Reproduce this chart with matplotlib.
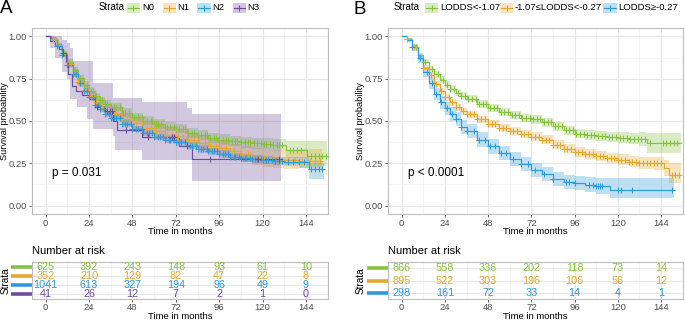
import numpy as np
import matplotlib
matplotlib.use('Agg')
import matplotlib.pyplot as plt
from matplotlib.patches import Rectangle
from matplotlib.lines import Line2D
import matplotlib.transforms as mtrans

plt.rcParams['font.family'] = ['Liberation Sans', 'DejaVu Sans']

# ---------------- data ----------------
time_ticks = [0, 24, 48, 72, 96, 120, 144]
surv_ticks = [0.0, 0.25, 0.5, 0.75, 1.0]
surv_tick_labels = ['0.00', '0.25', '0.50', '0.75', '1.00']

# Panel A: N stage
a_labels = ['N0', 'N1', 'N2', 'N3']
a_colors = ['#86C13F', '#E5A82E', '#2E9AD6', '#6C4E9C']
a_p_text = 'p = 0.031'

a0_t = [0, 3, 6, 9, 12, 15, 18, 21, 24, 27, 30, 33, 36, 42, 48, 54, 60, 66, 72, 78, 84, 90, 96, 102, 108, 114, 120, 126, 133, 144.4, 155.5]
a0_s = [1.0, .985, .95, .90, .85, .80, .755, .715, .68, .646, .622, .60, .583, .55, .525, .502, .482, .465, .455, .43, .415, .40, .39, .382, .374, .368, .362, .356, .327, .291, .291]
a0_lo = [1, .98, .94, .888, .835, .783, .737, .696, .66, .625, .60, .577, .559, .525, .50, .476, .455, .438, .427, .401, .385, .37, .359, .35, .341, .334, .327, .32, .28, .235, .235]
a0_hi = [1, .99, .96, .912, .865, .817, .773, .734, .70, .667, .644, .623, .607, .575, .55, .528, .509, .492, .483, .459, .445, .43, .421, .414, .407, .402, .397, .392, .38, .38, .38]
a0_cens = [4, 7, 10, 13, 16, 19, 21, 23, 25, 26, 28, 30, 31, 33, 34, 36, 38, 39, 41, 43, 44, 46, 48, 49, 51, 53, 54, 56, 58, 59, 61, 62, 64, 66, 67, 69, 71, 72, 74, 76, 77, 79, 81, 82, 84, 86, 88, 89, 91, 93, 94, 96, 98, 100, 101, 103, 105, 106, 108, 110, 112, 113, 115, 117, 119, 121, 122, 124, 126, 128, 129, 131, 135, 137, 139, 141, 147, 149, 151, 153, 155]

a1_t = [0, 3, 6, 9, 12, 15, 18, 21, 24, 27, 30, 33, 36, 42, 48, 54, 60, 66, 72, 78, 84, 90, 96, 102, 108, 114, 120, 126, 132, 140, 153]
a1_s = [1, .985, .945, .89, .835, .78, .73, .685, .65, .61, .585, .56, .54, .51, .488, .46, .44, .42, .405, .39, .37, .355, .34, .32, .305, .29, .28, .275, .27, .266, .266]
a1_lo = [1, .975, .93, .87, .813, .755, .703, .657, .62, .579, .553, .527, .506, .475, .453, .423, .402, .381, .365, .349, .328, .312, .295, .274, .258, .242, .23, .223, .216, .22, .22]
a1_hi = [1, .995, .96, .91, .857, .805, .757, .713, .68, .641, .617, .593, .574, .545, .523, .497, .478, .459, .445, .431, .412, .398, .385, .366, .352, .338, .33, .327, .324, .335, .335]
a1_cens = [5, 9, 14, 18, 22, 25, 28, 31, 34, 36, 39, 42, 45, 47, 50, 53, 56, 58, 61, 64, 67, 70, 73, 76, 79, 82, 85, 88, 91, 94, 97, 100, 104, 108, 112, 117, 121, 125, 129, 134, 138, 142, 146, 149, 152]

a2_t = [0, 3, 6, 9, 12, 15, 18, 21, 24, 27, 30, 33, 36, 42, 48, 54, 60, 66, 72, 78, 84, 90, 96, 102, 108, 114, 120, 126, 132, 140, 145.9, 154]
a2_s = [1, .985, .945, .89, .83, .775, .725, .68, .64, .597, .57, .54, .52, .485, .455, .43, .405, .39, .375, .355, .335, .32, .305, .29, .282, .275, .27, .263, .258, .255, .218, .218]
a2_lo = [1, .98, .937, .88, .818, .762, .711, .665, .625, .581, .553, .523, .502, .467, .437, .411, .386, .37, .355, .334, .313, .298, .283, .267, .258, .25, .245, .237, .231, .225, .158, .158]
a2_hi = [1, .99, .953, .90, .842, .788, .739, .695, .655, .613, .587, .557, .538, .503, .473, .449, .424, .41, .395, .376, .357, .342, .327, .313, .306, .30, .295, .289, .285, .285, .253, .253]
a2_cens = [6, 9, 12, 15, 17, 19, 21, 23, 24, 26, 27, 29, 30, 32, 33, 35, 36, 38, 39, 41, 42, 44, 45, 47, 48, 50, 51, 53, 54, 56, 57, 59, 60, 62, 63, 65, 66, 68, 69, 71, 72, 74, 75, 77, 78, 80, 81, 83, 84, 86, 87, 89, 90, 92, 93, 95, 96, 98, 99, 101, 102, 104, 105, 107, 108, 110, 111, 113, 114, 116, 117, 119, 120, 122, 123, 125, 127, 129, 131, 134, 137, 140, 143, 147, 149, 151, 153]

a3_t = [0, 2.4, 5, 7.5, 9.5, 11, 12.5, 14.5, 17, 20, 24, 27, 33, 37.4, 39.3, 53, 74, 80.7, 130]
a3_s = [1, .976, .951, .927, .90, .85, .78, .705, .68, .655, .63, .583, .557, .50, .449, .406, .35, .276, .276]
a3_band_t = [0, 2.4, 5, 8.8, 11.5, 13.5, 15.3, 17.3, 22.9, 26.3, 37.3, 38.3, 53, 78, 80.7, 130]
a3_hi = [1, 1, 1, .98, .96, .93, .852, .852, .852, .725, .636, .636, .61, .577, .54, .54]
a3_lo = [1, .93, .87, .79, .75, .63, .63, .58, .51, .45, .41, .33, .27, .27, .144, .144]
a3_cens = [9.6, 28.2, 33.7, 35.5, 36.5, 44.4, 56.6, 70.1, 71.2, 77.9, 91, 117.4, 129.2]

a_risk = [[625, 392, 243, 148, 93, 61, 10],
          [352, 210, 129, 82, 47, 22, 8],
          [1041, 613, 327, 194, 96, 49, 9],
          [41, 26, 12, 7, 2, 1, 0]]

# Panel B: LODDS
b_labels = ['LODDS<-1.07', '-1.07\u2264LODDS<-0.27', 'LODDS\u2265-0.27']
b_colors = ['#86C13F', '#E5A82E', '#2E9AD6']
b_p_text = 'p < 0.0001'

b0_t = [0, 3, 6, 9, 12, 15, 18, 21, 24, 27, 30, 33, 36, 42, 48, 54, 60, 66, 72, 78, 84, 90, 96, 102, 108, 114, 120, 126, 132, 136.4, 155]
b0_s = [1, .985, .94, .89, .85, .81, .775, .745, .715, .69, .668, .648, .632, .60, .578, .555, .535, .52, .51, .492, .47, .445, .425, .418, .41, .405, .40, .396, .392, .37, .37]
b0_lo = [1, .98, .93, .877, .835, .793, .757, .726, .695, .67, .647, .627, .61, .578, .556, .532, .511, .496, .485, .466, .443, .418, .397, .389, .38, .374, .368, .362, .352, .31, .31]
b0_hi = [1, .99, .95, .903, .865, .827, .793, .764, .735, .71, .689, .669, .654, .622, .60, .578, .559, .544, .535, .518, .497, .472, .453, .447, .44, .436, .432, .43, .432, .43, .43]
b0_cens = [3, 8, 13, 17, 20, 23, 25, 27, 29, 31, 33, 35, 37, 39, 41, 43, 45, 47, 49, 51, 53, 55, 57, 59, 61, 63, 65, 67, 69, 71, 73, 75, 77, 79, 81, 83, 85, 87, 89, 91, 93, 95, 97, 99, 101, 103, 105, 107, 109, 111, 113, 115, 117, 119, 121, 123, 125, 127, 129, 131, 133, 135, 138, 145, 147, 149, 151, 153]

b1_t = [0, 3, 6, 9, 12, 15, 18, 21, 24, 27, 30, 33, 36, 42, 48, 54, 60, 66, 72, 78, 84, 90, 96, 102, 108, 114, 120, 126, 132, 140, 145.7, 148.4, 155]
b1_s = [1, .985, .94, .875, .815, .77, .72, .675, .64, .61, .58, .558, .54, .51, .485, .46, .44, .425, .408, .39, .36, .335, .318, .305, .292, .282, .272, .26, .253, .25, .222, .183, .183]
b1_lo = [1, .98, .93, .862, .80, .753, .702, .656, .62, .59, .559, .537, .518, .488, .463, .437, .416, .401, .383, .364, .333, .308, .29, .276, .262, .251, .24, .226, .217, .21, .172, .135, .135]
b1_hi = [1, .99, .95, .888, .83, .787, .738, .694, .66, .63, .601, .579, .562, .532, .507, .483, .464, .449, .433, .416, .387, .362, .346, .334, .322, .313, .304, .294, .289, .29, .272, .25, .25]
b1_cens = [3, 7, 12, 16, 19, 22, 24, 26, 28, 30, 32, 34, 36, 38, 40, 42, 44, 46, 48, 50, 52, 54, 56, 58, 60, 62, 64, 66, 68, 70, 72, 74, 76, 78, 80, 82, 84, 86, 88, 90, 92, 94, 96, 98, 100, 102, 104, 106, 108, 110, 112, 114, 116, 118, 120, 122, 124, 126, 128, 130, 132, 134, 136, 138, 140, 142, 144, 150, 152, 154]

b2_t = [0, 3, 6, 9, 12, 15, 18, 21, 24, 27, 30, 33, 36, 42, 48, 54, 60, 66, 72, 78, 84, 90, 96, 102, 108, 115.8, 151]
b2_s = [1, .98, .935, .87, .79, .725, .66, .61, .575, .54, .51, .465, .44, .39, .35, .31, .275, .245, .21, .185, .155, .14, .132, .124, .114, .09, .09]
b2_lo = [1, .97, .915, .843, .76, .692, .625, .573, .537, .50, .469, .423, .398, .347, .307, .267, .232, .202, .168, .143, .114, .098, .09, .081, .07, .047, .047]
b2_hi = [1, .99, .955, .897, .82, .758, .695, .647, .613, .58, .551, .507, .482, .433, .393, .353, .318, .288, .252, .227, .196, .182, .176, .168, .16, .165, .165]
b2_cens = [6, 10, 14, 17, 19, 22, 25, 28, 30, 33, 36, 40, 43, 46, 49, 52, 55, 58, 62, 66, 70, 74, 79, 84, 91, 93, 96, 104, 106, 108, 109, 110, 111, 120, 122, 128, 150]

b_risk = [[866, 558, 336, 202, 118, 73, 14],
          [895, 522, 303, 196, 106, 56, 12],
          [298, 161, 72, 33, 14, 4, 1]]

# ---------------- layout ----------------
W, H = 685, 320
fig = plt.figure(figsize=(W / 100, H / 100), dpi=100)


def fbox(x0, y0, x1, y1):
    return [x0 / W, 1 - y1 / H, (x1 - x0) / W, (y1 - y0) / H]


XLIM = (-7.6, 156.2)
YLIM = (-0.05, 1.05)
GMAJ = '#E6E6E6'
GMIN = '#F3F3F3'
BORDER = '#BDBDBD'
TICKC = '#4D4D4D'
minor_x = [12, 36, 60, 84, 108, 132]
minor_y = [0.125, 0.375, 0.625, 0.875]


def base_style(ax, pad=1.5):
    ax.set_xlim(XLIM)
    ax.set_xticks(time_ticks)
    ax.set_xticklabels([str(v) for v in time_ticks])
    for v in minor_x:
        ax.axvline(v, color=GMIN, lw=0.5, zorder=0)
    for v in time_ticks:
        ax.axvline(v, color=GMAJ, lw=0.8, zorder=0)
    for s in ax.spines.values():
        s.set_color(BORDER)
        s.set_linewidth(0.8)
    ax.tick_params(axis='both', length=2.0, width=0.6, color='#555555',
                   labelsize=6.8, labelcolor=TICKC, pad=pad)


def draw_group(ax, t, s, lo, hi, cens, color, band_t=None):
    bt = t if band_t is None else band_t
    ax.fill_between(bt, lo, hi, step='post', color=color, alpha=0.3, lw=0, zorder=2)
    ax.step(t, s, where='post', color=color, lw=0.85, zorder=3)
    ta = np.asarray(t)
    sa = np.asarray(s)
    idx = np.searchsorted(ta, cens, side='right') - 1
    ax.plot(cens, sa[idx], ls='none', marker='+', ms=4.0, mew=0.75, color=color, zorder=4)


def main_panel(box, groups, colors, ptext):
    ax = fig.add_axes(fbox(*box))
    base_style(ax)
    ax.set_ylim(YLIM)
    ax.set_yticks(surv_ticks)
    ax.set_yticklabels(surv_tick_labels)
    for v in minor_y:
        ax.axhline(v, color=GMIN, lw=0.5, zorder=0)
    for v in surv_ticks:
        ax.axhline(v, color=GMAJ, lw=0.8, zorder=0)
    for g, c in zip(groups, colors):
        if len(g) == 5:
            draw_group(ax, *g, color=c)
        else:
            draw_group(ax, g[0], g[1], g[3], g[4], g[5], c, band_t=g[2])
    ax.text(3.5, 0.193, ptext, fontsize=8.5, va='center', ha='left', color='black')
    return ax


def risk_panel(box, risk, colors):
    ax = fig.add_axes(fbox(*box))
    base_style(ax, pad=0.6)
    n = len(risk)
    ax.set_ylim(n + 0.5, 0.5)
    ax.set_yticks([])
    for r in range(1, n + 1):
        ax.axhline(r, color=GMAJ, lw=0.8, zorder=0)
    for r, (row, c) in enumerate(zip(risk, colors), start=1):
        for tt, v in zip(time_ticks, row):
            ax.text(tt, r, str(v), color=c, fontsize=7.8, ha='center', va='center')
    tr = mtrans.blended_transform_factory(ax.transAxes, ax.transData)
    for r, c in enumerate(colors, start=1):
        ax.add_line(Line2D([-0.072, 0.0], [r, r], transform=tr, color=c, lw=2.6,
                           clip_on=False, solid_capstyle='butt'))
    return ax


groupsA = [
    (a0_t, a0_s, a0_lo, a0_hi, a0_cens),
    (a1_t, a1_s, a1_lo, a1_hi, a1_cens),
    (a2_t, a2_s, a2_lo, a2_hi, a2_cens),
    (a3_t, a3_s, a3_band_t, a3_lo, a3_hi, a3_cens),
]
groupsB = [
    (b0_t, b0_s, b0_lo, b0_hi, b0_cens),
    (b1_t, b1_s, b1_lo, b1_hi, b1_cens),
    (b2_t, b2_s, b2_lo, b2_hi, b2_cens),
]

axA = main_panel((32, 28, 328, 214), groupsA, a_colors, a_p_text)
axB = main_panel((388, 28, 683, 214), groupsB, b_colors, b_p_text)
tA = risk_panel((32, 262, 328, 299), a_risk, a_colors)
tB = risk_panel((388, 262, 683, 299), b_risk, b_colors)

# overlay for free text and legends
ov = fig.add_axes([0, 0, 1, 1], zorder=10)
ov.set_xlim(0, W)
ov.set_ylim(H, 0)
ov.axis('off')

ov.text(0, 8.5, 'A', fontsize=13.5, va='center', ha='left')
ov.text(354, 9, 'B', fontsize=13.5, va='center', ha='left')

# axis titles
for x in (4.8, 360.5):
    ov.text(x, 121, 'Survival probability', rotation=90, fontsize=6.6, va='center', ha='center')
    ov.text(x + 0.5, 280.5, 'Strata', rotation=90, fontsize=7.2, va='center', ha='center')
ov.text(180, 231.5, 'Time in months', fontsize=6.8, ha='center', va='center')
ov.text(535.5, 231.5, 'Time in months', fontsize=6.8, ha='center', va='center')
ov.text(180, 316.3, 'Time in months', fontsize=6.8, ha='center', va='center')
ov.text(535.5, 316.3, 'Time in months', fontsize=6.8, ha='center', va='center')
ov.text(32, 251.5, 'Number at risk', fontsize=8, ha='left', va='center')
ov.text(388, 251.5, 'Number at risk', fontsize=8, ha='left', va='center')


def legend(strata_x, key_x, label_x, labels, colors, yc=7.5):
    ov.text(strata_x, yc, 'Strata', fontsize=6.9, ha='left', va='center')
    for kx, lx, lab, c in zip(key_x, label_x, labels, colors):
        ov.add_patch(Rectangle((kx, yc - 5), 13.5, 10, facecolor=c, alpha=0.3, lw=0))
        ov.plot([kx + 1, kx + 12.5], [yc, yc], color=c, lw=0.85)
        ov.plot([kx + 6.75], [yc], marker='+', ms=4.2, mew=0.8, color=c)
        ov.text(lx, yc, lab, fontsize=6.8, ha='left', va='center')


legend(98.3, [126.7, 162.7, 197.3, 232.7], [142.7, 177.3, 212.3, 247.3], a_labels, a_colors)
legend(394, [425, 500, 603.3], [440, 515, 618.3], b_labels, b_colors)

fig.savefig('out.png', dpi=100)
